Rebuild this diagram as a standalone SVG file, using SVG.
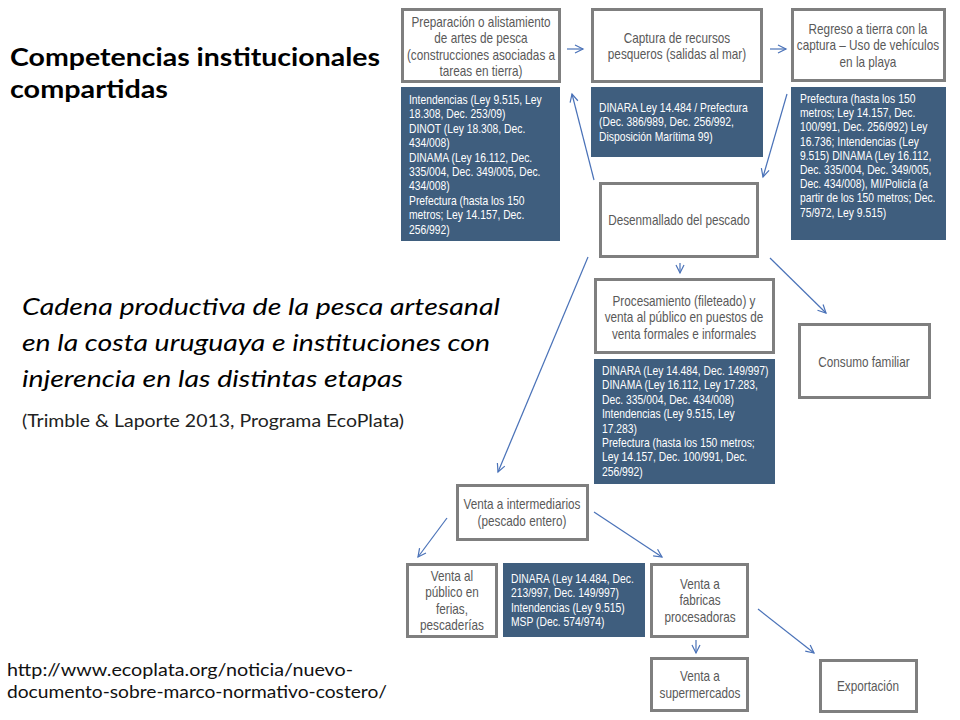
<svg xmlns="http://www.w3.org/2000/svg" width="960" height="720" viewBox="0 0 960 720">
<style>
.box{fill:#ffffff;stroke:#7f7f7f;stroke-width:3}
.dark{fill:#3f5e7e}
.nt{font-family:"Liberation Sans",Arial,sans-serif;font-size:14px;fill:#595959;text-anchor:middle}
.dt{font-family:"Liberation Sans",Arial,sans-serif;font-size:12.6px;fill:#ffffff}
.title{font-family:Lato,"Open Sans",sans-serif;font-weight:bold;font-size:25px;fill:#000000}
.ital{font-family:Lato,"Open Sans",sans-serif;font-style:italic;font-size:24px;fill:#000000}
.cite{font-family:Lato,"Open Sans",sans-serif;font-size:17px;fill:#222222}
.url{font-family:Lato,"Open Sans",sans-serif;font-size:18px;fill:#111111}
.conn{stroke:#4a72b8;stroke-width:1.2;fill:none}
</style>
<defs>
<marker id="arr" markerUnits="userSpaceOnUse" markerWidth="12" markerHeight="12" refX="9" refY="5" orient="auto">
<path d="M1,1 L9,5 L1,9" fill="none" stroke="#4a72b8" stroke-width="1.2"/>
</marker>
</defs>

<g id="left-text">
<text class="title" x="10" y="66" textLength="370" lengthAdjust="spacingAndGlyphs">Competencias institucionales</text>
<text class="title" x="10" y="98" textLength="158" lengthAdjust="spacingAndGlyphs">compartidas</text>
<text class="ital" x="22" y="315" textLength="478" lengthAdjust="spacingAndGlyphs">Cadena productiva de la pesca artesanal</text>
<text class="ital" x="22" y="351" textLength="468" lengthAdjust="spacingAndGlyphs">en la costa uruguaya e instituciones con</text>
<text class="ital" x="22" y="387" textLength="381" lengthAdjust="spacingAndGlyphs">injerencia en las distintas etapas</text>
<text class="cite" x="22" y="427" textLength="382" lengthAdjust="spacingAndGlyphs">(Trimble &amp; Laporte 2013, Programa EcoPlata)</text>
<text class="url" x="7" y="676" textLength="346" lengthAdjust="spacingAndGlyphs">http://www.ecoplata.org/noticia/nuevo-</text>
<text class="url" x="7" y="698" textLength="380" lengthAdjust="spacingAndGlyphs">documento-sobre-marco-normativo-costero/</text>
</g>

<g id="connectors">
<path class="conn" marker-end="url(#arr)" d="M567,49 L583,49"/>
<path class="conn" marker-end="url(#arr)" d="M770,49 L786,49"/>
<path class="conn" marker-end="url(#arr)" d="M594,180 L572,94"/>
<path class="conn" marker-end="url(#arr)" d="M787,94 L763,177"/>
<path class="conn" marker-end="url(#arr)" d="M680,263 L680,273"/>
<path class="conn" marker-end="url(#arr)" d="M770,258 L826,313"/>
<path class="conn" marker-end="url(#arr)" d="M588,257 L498,472"/>
<path class="conn" marker-end="url(#arr)" d="M447,518 L418,557"/>
<path class="conn" marker-end="url(#arr)" d="M594,512 L662,557"/>
<path class="conn" marker-end="url(#arr)" d="M696,640 L696,653"/>
<path class="conn" marker-end="url(#arr)" d="M758,609 L814,653"/>
</g>

<g id="preparacion">
<rect class="box" x="402.5" y="9.5" width="157" height="72"/>
<g transform="matrix(0.84,0,0,1,76.96,0)">
<text class="nt" x="481" y="27">Preparación o alistamiento</text>
<text class="nt" x="481" y="43.5">de artes de pesca</text>
<text class="nt" x="481" y="60">(construcciones asociadas a</text>
<text class="nt" x="481" y="76.5">tareas en tierra)</text>
</g>
</g>
<g id="inst-preparacion">
<rect class="dark" x="401" y="87" width="159" height="154"/>
<g transform="matrix(0.82,0,0,1,73.62,0)">
<text class="dt" x="409" y="104">Intendencias (Ley 9.515, Ley</text>
<text class="dt" x="409" y="118.4">18.308, Dec. 253/09)</text>
<text class="dt" x="409" y="132.8">DINOT (Ley 18.308, Dec.</text>
<text class="dt" x="409" y="147.2">434/008)</text>
<text class="dt" x="409" y="161.6">DINAMA (Ley 16.112, Dec.</text>
<text class="dt" x="409" y="176">335/004, Dec. 349/005, Dec.</text>
<text class="dt" x="409" y="190.4">434/008)</text>
<text class="dt" x="409" y="204.8">Prefectura (hasta los 150</text>
<text class="dt" x="409" y="219.2">metros; Ley 14.157, Dec.</text>
<text class="dt" x="409" y="233.6">256/992)</text>
</g>
</g>

<g id="captura">
<rect class="box" x="592.5" y="9.5" width="169" height="72"/>
<g transform="matrix(0.84,0,0,1,108.32,0)">
<text class="nt" x="677" y="43">Captura de recursos</text>
<text class="nt" x="677" y="59.5">pesqueros (salidas al mar)</text>
</g>
</g>
<g id="inst-captura">
<rect class="dark" x="591" y="87" width="172" height="70"/>
<g transform="matrix(0.82,0,0,1,107.82,0)">
<text class="dt" x="599" y="112">DINARA Ley 14.484 / Prefectura</text>
<text class="dt" x="599" y="126.4">(Dec. 386/989, Dec. 256/992,</text>
<text class="dt" x="599" y="140.8">Disposición Marítima 99)</text>
</g>
</g>

<g id="regreso">
<rect class="box" x="792.5" y="9.5" width="152" height="71"/>
<g transform="matrix(0.84,0,0,1,138.88,0)">
<text class="nt" x="868" y="34">Regreso a tierra con la</text>
<text class="nt" x="868" y="50.5">captura – Uso de vehículos</text>
<text class="nt" x="868" y="67">en la playa</text>
</g>
</g>
<g id="inst-regreso">
<rect class="dark" x="791" y="87" width="155" height="153"/>
<g transform="matrix(0.82,0,0,1,144,0)">
<text class="dt" x="800" y="103">Prefectura  (hasta los 150</text>
<text class="dt" x="800" y="117.2">metros; Ley 14.157, Dec.</text>
<text class="dt" x="800" y="131.4">100/991, Dec. 256/992) Ley</text>
<text class="dt" x="800" y="145.6">16.736; Intendencias (Ley</text>
<text class="dt" x="800" y="159.8">9.515) DINAMA (Ley 16.112,</text>
<text class="dt" x="800" y="174">Dec. 335/004, Dec. 349/005,</text>
<text class="dt" x="800" y="188.2">Dec. 434/008), MI/Policía (a</text>
<text class="dt" x="800" y="202.4">partir de los 150 metros; Dec.</text>
<text class="dt" x="800" y="216.6">75/972, Ley 9.515)</text>
</g>
</g>

<g id="desenmallado">
<rect class="box" x="600.5" y="183.5" width="157" height="73"/>
<g transform="matrix(0.84,0,0,1,108.64,0)">
<text class="nt" x="679" y="225">Desenmallado del pescado</text>
</g>
</g>

<g id="procesamiento">
<rect class="box" x="595.5" y="279.5" width="178" height="73"/>
<g transform="matrix(0.84,0,0,1,109.44,0)">
<text class="nt" x="684" y="306">Procesamiento (fileteado) y</text>
<text class="nt" x="684" y="322.5">venta al público en puestos de</text>
<text class="nt" x="684" y="339">venta formales e informales</text>
</g>
</g>
<g id="inst-procesamiento">
<rect class="dark" x="594" y="359" width="181" height="125"/>
<g transform="matrix(0.82,0,0,1,108.36,0)">
<text class="dt" x="602" y="375">DINARA (Ley 14.484, Dec. 149/997)</text>
<text class="dt" x="602" y="389.4">DINAMA (Ley 16.112, Ley 17.283,</text>
<text class="dt" x="602" y="403.8">Dec. 335/004, Dec. 434/008)</text>
<text class="dt" x="602" y="418.2">Intendencias (Ley 9.515, Ley</text>
<text class="dt" x="602" y="432.6">17.283)</text>
<text class="dt" x="602" y="447">Prefectura (hasta los 150 metros;</text>
<text class="dt" x="602" y="461.4">Ley 14.157, Dec. 100/991, Dec.</text>
<text class="dt" x="602" y="475.8">256/992)</text>
</g>
</g>

<g id="consumo">
<rect class="box" x="799.5" y="324.5" width="130" height="73"/>
<g transform="matrix(0.84,0,0,1,138.24,0)">
<text class="nt" x="864" y="367">Consumo familiar</text>
</g>
</g>

<g id="intermediarios">
<rect class="box" x="457.5" y="485.5" width="130" height="54"/>
<g transform="matrix(0.84,0,0,1,83.52,0)">
<text class="nt" x="522" y="509">Venta a intermediarios</text>
<text class="nt" x="522" y="526.5">(pescado entero)</text>
</g>
</g>

<g id="publico">
<rect class="box" x="407.5" y="564.5" width="89" height="72"/>
<g transform="matrix(0.84,0,0,1,72.32,0)">
<text class="nt" x="452" y="581">Venta al</text>
<text class="nt" x="452" y="597.5">público en</text>
<text class="nt" x="452" y="614">ferias,</text>
<text class="nt" x="452" y="630.5">pescaderías</text>
</g>
</g>
<g id="inst-venta">
<rect class="dark" x="503" y="563" width="142" height="74"/>
<g transform="matrix(0.82,0,0,1,91.98,0)">
<text class="dt" x="511" y="583">DINARA (Ley 14.484, Dec.</text>
<text class="dt" x="511" y="597.4">213/997, Dec. 149/997)</text>
<text class="dt" x="511" y="611.8">Intendencias (Ley 9.515)</text>
<text class="dt" x="511" y="626.2">MSP (Dec. 574/974)</text>
</g>
</g>

<g id="fabricas">
<rect class="box" x="651.5" y="564.5" width="96" height="72"/>
<g transform="matrix(0.84,0,0,1,112,0)">
<text class="nt" x="700" y="589">Venta a</text>
<text class="nt" x="700" y="605.5">fabricas</text>
<text class="nt" x="700" y="622">procesadoras</text>
</g>
</g>

<g id="supermercados">
<rect class="box" x="651.5" y="658.5" width="96" height="52"/>
<g transform="matrix(0.84,0,0,1,112,0)">
<text class="nt" x="700" y="681.5">Venta a</text>
<text class="nt" x="700" y="698">supermercados</text>
</g>
</g>

<g id="exportacion">
<rect class="box" x="820.5" y="660.5" width="96" height="51"/>
<g transform="matrix(0.84,0,0,1,138.88,0)">
<text class="nt" x="868" y="691.5">Exportación</text>
</g>
</g>
</svg>
